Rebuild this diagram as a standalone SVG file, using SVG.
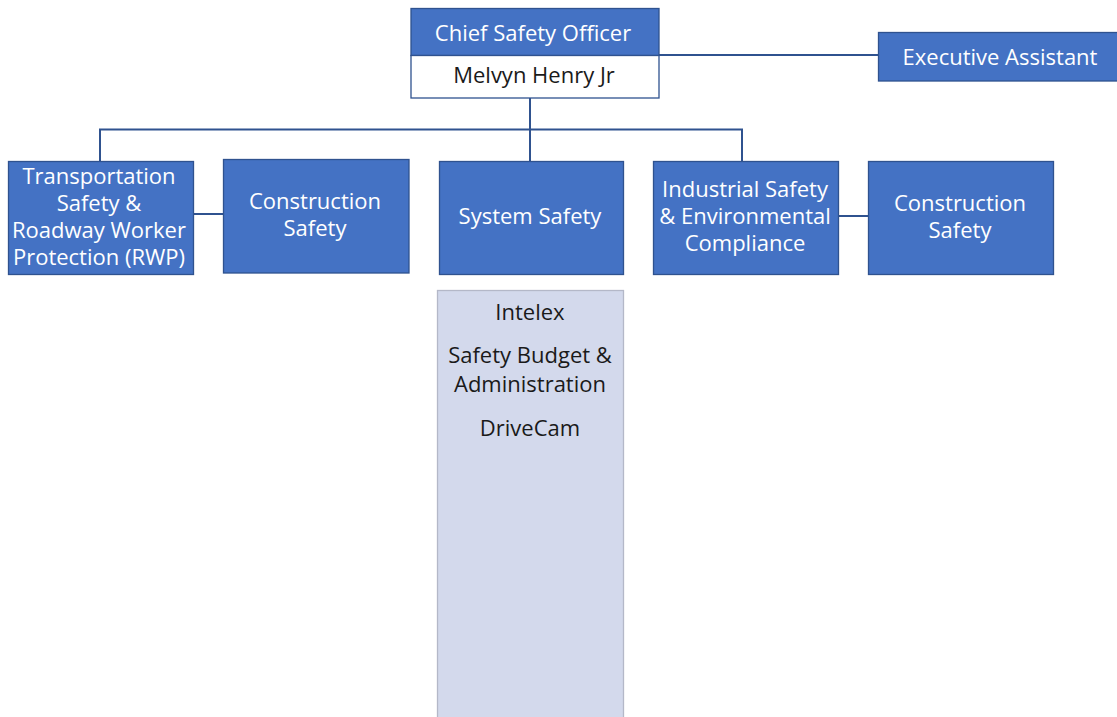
<svg xmlns="http://www.w3.org/2000/svg" width="1117" height="717" viewBox="0 0 1117 717">
<style>
.b{fill:#4472C4;stroke:#2F528F;stroke-width:1.3}
.w{fill:#FFFFFF;stroke:#2F528F;stroke-width:1.3}
.l{fill:#D3D9EC;stroke:#B4B8C8;stroke-width:1.3}
.t{font-family:"Open Sans","Noto Sans",sans-serif;font-size:22px;text-anchor:middle;fill:#FFFFFF}
.d{fill:#1A1A1A}
.c{fill:none;stroke:#2F528F;stroke-width:2}
</style>
<rect width="1117" height="717" fill="#FFFFFF"/>
<g id="connectors">
<path class="c" d="M659 55H878"/>
<path class="c" d="M530 98V161"/>
<path class="c" d="M100 161V129.5H742V161"/>
<path class="c" d="M193 214H223"/>
<path class="c" d="M838 216H868"/>
</g>
<g id="cso">
<rect class="b" x="411" y="8.5" width="248" height="47"/>
<rect class="w" x="411" y="55.5" width="248" height="42.5"/>
<text class="t" x="533" y="41">Chief Safety Officer</text>
<text class="t d" x="534" y="83">Melvyn Henry Jr</text>
</g>
<g id="exec">
<rect class="b" x="878.5" y="32.5" width="240" height="48.5"/>
<text class="t" x="1000" y="65">Executive Assistant</text>
</g>
<g id="transport">
<rect class="b" x="8.5" y="161.5" width="185" height="113"/>
<text class="t" x="99" y="184">Transportation</text>
<text class="t" x="99" y="211">Safety &amp;</text>
<text class="t" x="99" y="238">Roadway Worker</text>
<text class="t" x="99" y="265">Protection (RWP)</text>
</g>
<g id="construction1">
<rect class="b" x="223.5" y="159.5" width="185.5" height="113.5"/>
<text class="t" x="315" y="209">Construction</text>
<text class="t" x="315" y="236">Safety</text>
</g>
<g id="system">
<rect class="b" x="439.5" y="161.5" width="184" height="113"/>
<text class="t" x="530" y="224">System Safety</text>
</g>
<g id="industrial">
<rect class="b" x="653.5" y="161.5" width="185" height="113"/>
<text class="t" x="745" y="197">Industrial Safety</text>
<text class="t" x="745" y="224">&amp; Environmental</text>
<text class="t" x="745" y="251">Compliance</text>
</g>
<g id="construction2">
<rect class="b" x="868.5" y="161.5" width="185" height="113"/>
<text class="t" x="960" y="211">Construction</text>
<text class="t" x="960" y="238">Safety</text>
</g>
<g id="systemlist">
<rect class="l" x="437.5" y="290.5" width="186" height="430"/>
<text class="t d" x="530" y="320">Intelex</text>
<text class="t d" x="530" y="363">Safety Budget &amp;</text>
<text class="t d" x="530" y="392">Administration</text>
<text class="t d" x="530" y="436">DriveCam</text>
</g>
</svg>
